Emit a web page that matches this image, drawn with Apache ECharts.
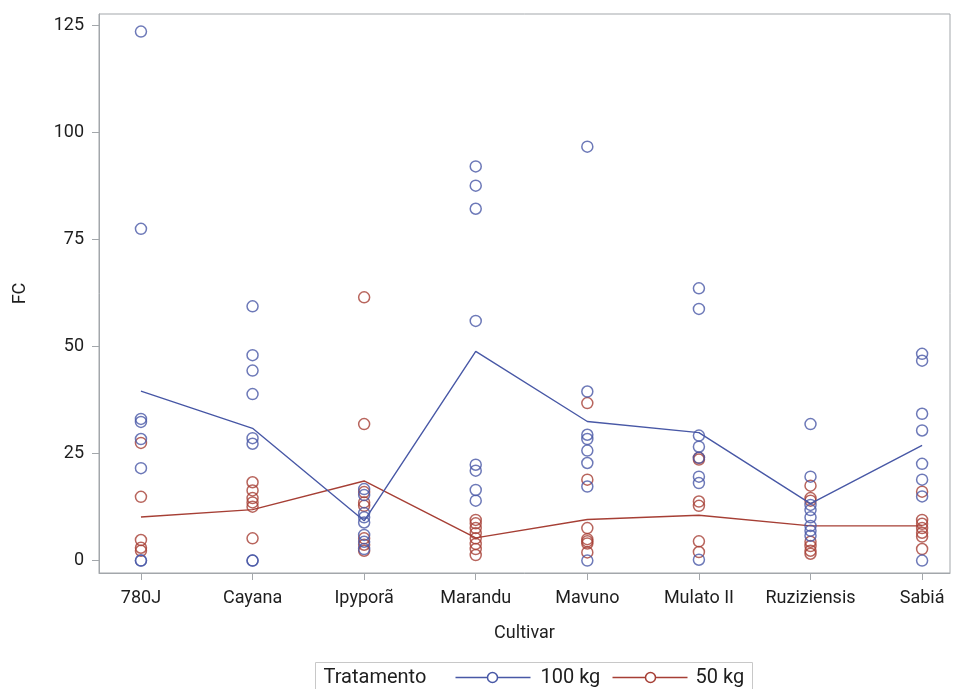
<!DOCTYPE html>
<html>
<head>
<meta charset="utf-8">
<script src="https://cdn.jsdelivr.net/npm/echarts@6/dist/echarts.min.js"></script>
<style>
  html, body { margin: 0; padding: 0; background: #fff; }
  #chart { width: 953px; height: 689px; }
</style>
</head>
<body>
<div id="chart"></div>
<script>
// Cultivars on the category axis
const cultivars = ['780J', 'Cayana', 'Ipyporã', 'Marandu', 'Mavuno', 'Mulato II', 'Ruziziensis', 'Sabiá'];

// FC observations per cultivar, treatment 100 kg
const fc100 = [
  [123.6, 77.5, 33.1, 32.4, 28.4, 21.6, 0, 0],
  [59.4, 48.0, 44.4, 38.9, 28.6, 27.3, 0, 0],
  [16.7, 15.3, 11.1, 10.1, 8.9, 6.0, 4.4, 2.7],
  [92.1, 87.6, 82.2, 56.0, 22.4, 21.0, 16.5, 14.0],
  [96.7, 39.5, 29.4, 28.4, 25.7, 22.8, 17.3, 0],
  [63.6, 58.8, 29.2, 26.6, 24.0, 19.6, 18.1, 0.2],
  [31.9, 19.6, 13.0, 11.8, 10.1, 8.1, 7.0, 5.8],
  [48.3, 46.7, 34.3, 30.4, 22.6, 18.9, 15.0, 0]
];

// FC observations per cultivar, treatment 50 kg
const fc50 = [
  [27.5, 14.9, 4.8, 3.0, 2.3],
  [18.3, 16.4, 14.6, 13.6, 12.6, 5.2],
  [61.5, 31.9, 16.0, 13.6, 12.8, 5.2, 3.7, 2.3],
  [9.5, 8.7, 7.6, 6.4, 5.2, 3.9, 2.7, 1.3],
  [36.8, 18.9, 7.6, 5.0, 4.5, 4.0, 1.9],
  [24.0, 23.6, 13.8, 12.8, 4.5, 2.0],
  [17.5, 14.6, 14.0, 4.4, 3.4, 2.3, 1.6],
  [16.1, 9.5, 8.6, 7.6, 6.5, 5.6, 2.7]
];

// Cultivar means joined by the lines
const mean100 = [39.6, 30.9, 9.3, 48.9, 32.5, 29.9, 13.3, 26.9];
const mean50 = [10.2, 11.9, 18.6, 5.3, 9.6, 10.6, 8.1, 8.1];

// Axis ticks
const yTicks = [0, 25, 50, 75, 100, 125];
const xTicks = cultivars.map((c, i) => i);

const BLUE = '#4858a6';
const RED = '#a63f35';
const AXIS = '#a3a7ab';
const TEXT = '#1e1e1e';
const FONT = 'Roboto';

function points(groups) {
  const out = [];
  groups.forEach((vals, i) => vals.forEach(v => out.push([i, v])));
  return out;
}
function line(vals) {
  return vals.map((v, i) => [i, v]);
}

const chart = echarts.init(document.getElementById('chart'), null, { renderer: 'canvas' });

const markerStyle = (c) => ({ color: 'rgba(0,0,0,0)', borderColor: c, borderWidth: 1.5 });

chart.setOption({
  animation: false,
  textStyle: { fontFamily: FONT },
  grid: {
    left: 99, right: 3, top: 14, bottom: 116,
    show: true, borderColor: AXIS, borderWidth: 1, containLabel: false
  },
  xAxis: {
    type: 'value',
    min: -0.376, max: 7.25,
    name: 'Cultivar',
    nameLocation: 'middle',
    nameGap: 51,
    nameTextStyle: { fontFamily: FONT, fontSize: 18, color: TEXT },
    axisLine: { show: true, onZero: false, lineStyle: { color: AXIS, width: 1 } },
    axisTick: { show: true, length: 7, lineStyle: { color: AXIS }, customValues: xTicks },
    axisLabel: {
      customValues: xTicks, margin: 16,
      fontFamily: FONT, fontSize: 18, color: TEXT,
      formatter: (v) => cultivars[Math.round(v)]
    },
    splitLine: { show: false }
  },
  yAxis: {
    type: 'value',
    min: -2.9, max: 127.7,
    name: 'FC',
    nameLocation: 'middle',
    nameGap: 70,
    nameRotate: 90,
    nameTextStyle: { fontFamily: FONT, fontSize: 18, color: TEXT },
    axisLine: { show: true, onZero: false, lineStyle: { color: AXIS, width: 1 } },
    axisTick: { show: true, length: 7, lineStyle: { color: AXIS }, customValues: yTicks },
    axisLabel: {
      customValues: yTicks, margin: 15,
      fontFamily: FONT, fontSize: 18, color: TEXT
    },
    splitLine: { show: false }
  },
  series: [
    {
      name: '50 kg', type: 'scatter', z: 2,
      symbol: 'circle', symbolSize: 11,
      itemStyle: markerStyle(RED),
      data: points(fc50)
    },
    {
      name: '50 kg', type: 'line', z: 2,
      symbol: 'none',
      lineStyle: { color: RED, width: 1.4 },
      data: line(mean50)
    },
    {
      name: '100 kg', type: 'scatter', z: 3,
      symbol: 'circle', symbolSize: 11,
      itemStyle: markerStyle(BLUE),
      data: points(fc100)
    },
    {
      name: '100 kg', type: 'line', z: 3,
      symbol: 'none',
      lineStyle: { color: BLUE, width: 1.4 },
      data: line(mean100)
    }
  ],
  graphic: [
    {
      type: 'group', left: 315, top: 662,
      children: [
        { type: 'rect', shape: { x: 0, y: 0, width: 437, height: 32 },
          style: { fill: '#fff', stroke: '#c8c8c8', lineWidth: 1 } },
        { type: 'text', x: 8, y: 15,
          style: { text: 'Tratamento', fontFamily: FONT, fontSize: 20, fill: TEXT, verticalAlign: 'middle' } },
        { type: 'line', shape: { x1: 140, y1: 15, x2: 215, y2: 15 }, style: { stroke: BLUE, lineWidth: 1.4 } },
        { type: 'circle', shape: { cx: 177, cy: 15, r: 5 }, style: { fill: '#fff', stroke: BLUE, lineWidth: 1.5 } },
        { type: 'text', x: 225, y: 15,
          style: { text: '100 kg', fontFamily: FONT, fontSize: 20, fill: TEXT, verticalAlign: 'middle' } },
        { type: 'line', shape: { x1: 297, y1: 15, x2: 372, y2: 15 }, style: { stroke: RED, lineWidth: 1.4 } },
        { type: 'circle', shape: { cx: 335, cy: 15, r: 5 }, style: { fill: '#fff', stroke: RED, lineWidth: 1.5 } },
        { type: 'text', x: 380, y: 15,
          style: { text: '50 kg', fontFamily: FONT, fontSize: 20, fill: TEXT, verticalAlign: 'middle' } }
      ]
    }
  ]
});
</script>
</body>
</html>
